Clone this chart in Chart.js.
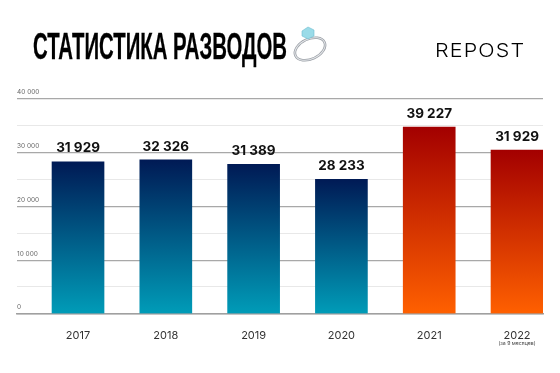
<!DOCTYPE html>
<html>
<head>
<meta charset="utf-8">
<script src="https://cdn.jsdelivr.net/npm/chart.js@4"></script>
<style>
  body { margin: 0; background: #fff; }
  #wrap { position: relative; width: 560px; height: 373px; overflow: hidden; }
  #title { position: absolute; left: 33px; top: 26px; font: bold 36px "Liberation Sans", sans-serif; color: #000; white-space: nowrap; transform-origin: left top; transform: scaleX(0.565); -webkit-text-stroke: 0.3px #000; }
  #logo { position: absolute; left: 435px; top: 39px; font: 300 19px Inter, sans-serif; color: #000; white-space: nowrap; letter-spacing: 1px; transform-origin: left top; transform: scaleX(1.13); }
  #ring { position: absolute; left: 292px; top: 26px; }
</style>
</head>
<body>
<div id="wrap">
  <canvas id="divorceChart" width="560" height="373"></canvas>
  <div id="title">СТАТИСТИКА РАЗВОДОВ</div>
  <svg id="ring" width="36" height="38" viewBox="0 0 36 38">
    <ellipse cx="18" cy="23" rx="16" ry="10" transform="rotate(-25 18 23)" fill="none" stroke="#9a9fa6" stroke-width="2.6"/>
    <ellipse cx="18" cy="23" rx="16" ry="10" transform="rotate(-25 18 23)" fill="none" stroke="#e4e6e9" stroke-width="1"/>
    <path d="M10 5 L16 1 L22 4 L22 10 L16 13 L10 10 Z" fill="#9adbe8" stroke="#6fbdd0" stroke-width="0.6"/>
  </svg>
  <div id="logo">REPOST</div>
</div>
<script>
// Data
const years = [2017, 2018, 2019, 2020, 2021, 2022];
const bar_heights = [28300, 28650, 27820, 25030, 34770, 30470];
const value_labels = ['31 929', '32 326', '31 389', '28 233', '39 227', '31 929'];
const cold_years = [2017, 2018, 2019, 2020];
const year_note = { 2022: '(за 9 месяцев)' };

const ctx = document.getElementById('divorceChart').getContext('2d');

// Gradient goes from the top of each bar to the axis
function bar_gradient(context) {
  const chart = context.chart;
  const yScale = chart.scales.y;
  const cold = cold_years.includes(years[context.dataIndex]);
  if (context.type !== 'data' || !yScale) return cold ? '#00265a' : '#a30000';
  const top = yScale.getPixelForValue(bar_heights[context.dataIndex]);
  const bottom = yScale.getPixelForValue(0);
  // scales have no pixels yet on the first pass
  if (!Number.isFinite(top) || !Number.isFinite(bottom)) return cold ? '#00265a' : '#a30000';
  const grad = chart.ctx.createLinearGradient(0, top, 0, bottom);
  if (cold) {
    grad.addColorStop(0, '#001a55');
    grad.addColorStop(1, '#009cb8');
  } else {
    grad.addColorStop(0, '#a30000');
    grad.addColorStop(1, '#ff6000');
  }
  return grad;
}

// Numbers above the bars and the small note under 2022
const bar_texts = {
  id: 'bar_texts',
  afterDraw(chart) {
    const c = chart.ctx;
    const bars = chart.getDatasetMeta(0).data;
    c.save();
    c.textAlign = 'center';
    c.textBaseline = 'middle';
    c.fillStyle = '#111';
    c.font = '700 13.5px Inter, sans-serif';
    bars.forEach((bar, i) => c.fillText(value_labels[i], bar.x, bar.y - 13.5));
    c.font = '5.2px Inter, sans-serif';
    c.fillStyle = '#444';
    years.forEach(year => {
      if (year_note[year]) c.fillText(year_note[year], chart.scales.x.getPixelForValue(year), 343.5);
    });
    c.restore();
  }
};

new Chart(ctx, {
  type: 'bar',
  data: {
    datasets: [{
      data: years.map((year, i) => ({ x: year, y: bar_heights[i] })),
      backgroundColor: bar_gradient,
      barThickness: 52
    }]
  },
  options: {
    responsive: false,
    animation: false,
    layout: { padding: { left: 17, right: 17, top: 99, bottom: 24 } },
    plugins: { legend: { display: false }, tooltip: { enabled: false } },
    scales: {
      x: {
        type: 'linear',
        offset: false,
        min: 2016.305,
        max: 2022.296,
        afterBuildTicks: scale => { scale.ticks = years.map(year => ({ value: year })); },
        grid: { display: false },
        border: { color: '#a0a0a0', width: 1.5 },
        ticks: {
          callback: value => String(value),
          autoSkip: false,
          maxRotation: 0,
          padding: 7,
          color: '#333',
          font: { family: 'Inter', size: 11 }
        }
      },
      y: {
        min: 0,
        max: 40000,
        afterBuildTicks: scale => {
          scale.ticks = [];
          for (let v = 0; v <= 40000; v += 5000) scale.ticks.push({ value: v });
        },
        border: { display: false },
        grid: {
          drawTicks: false,
          color: c => (c.tick.value % 10000 === 0 ? '#a8a8a8' : '#e8e8e8'),
          lineWidth: c => (c.tick.value % 10000 === 0 ? 1.2 : 1)
        },
        ticks: {
          mirror: true,
          padding: 0,
          labelOffset: -6.5,
          autoSkip: false,
          color: '#666',
          font: { family: 'Inter', size: 6.5 },
          callback: value => {
            if (value % 10000 !== 0) return '';
            return value === 0 ? '0' : (value / 1000) + ' 000';
          }
        }
      }
    }
  },
  plugins: [bar_texts]
});
</script>
</body>
</html>
